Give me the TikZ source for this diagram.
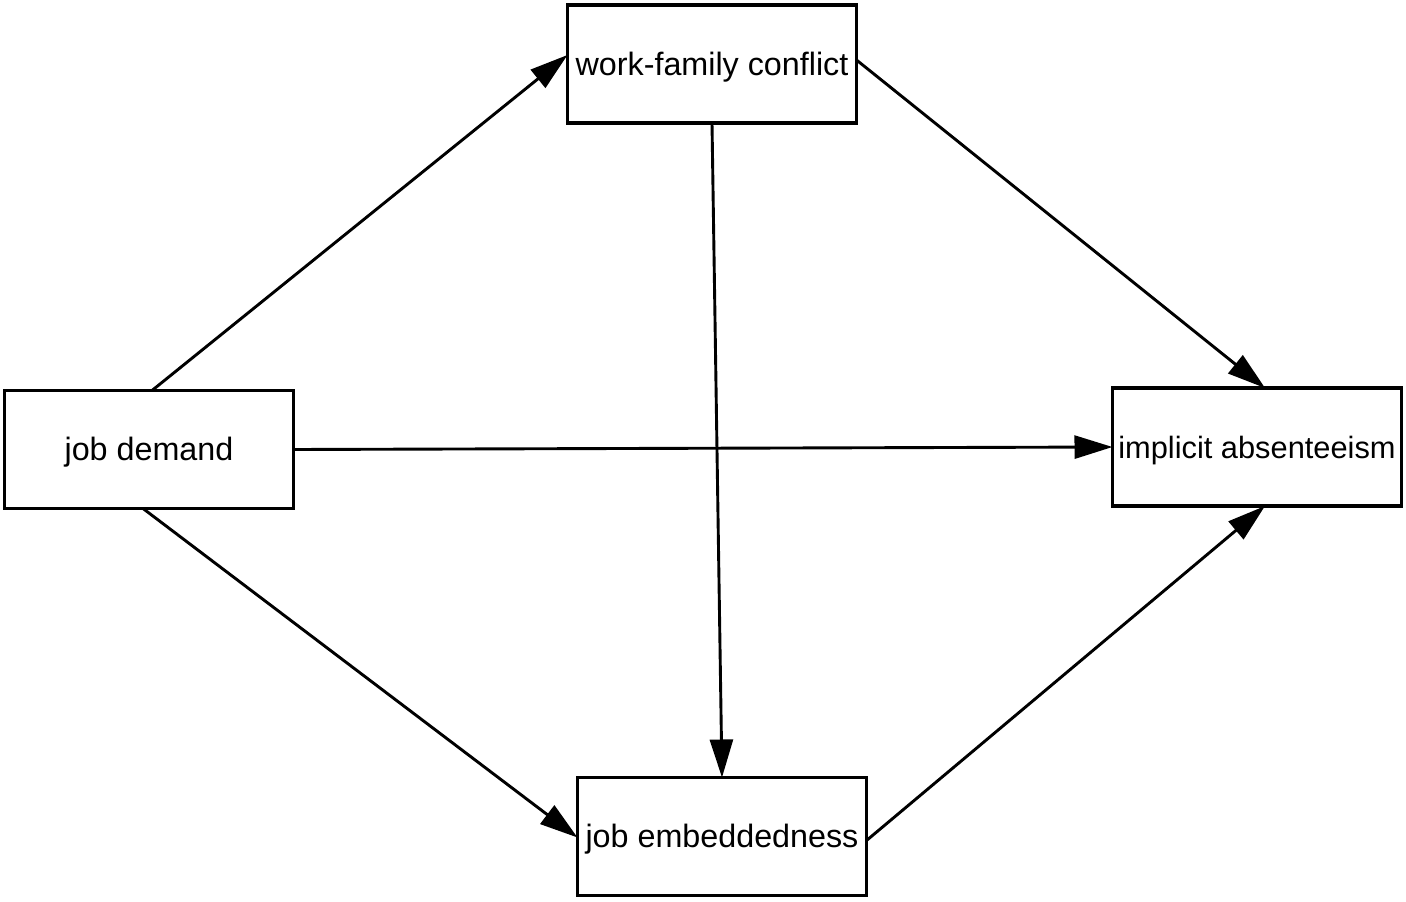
\documentclass[tikz,border=0pt]{standalone}
\usepackage{fontspec}
\setmainfont{Liberation Sans}
\usetikzlibrary{arrows.meta,calc}
\begin{document}
\begin{tikzpicture}[x=1pt,y=-1pt,
  box/.style={draw,line width=3.2pt,rectangle,outer sep=0pt,inner sep=0pt,
    minimum width=289pt,minimum height=118pt,text height=24pt,text depth=2pt,
    font=\fontsize{32.3}{36}\selectfont},
  conn/.style={line width=2.9pt,-{Triangle[length=38pt,width=23pt]}}]
\useasboundingbox[fill=white] (0,0) rectangle (1406,902);
\node[box] (wfc) at (712,64) {work-family conflict};
\node[box] (jd) at (149,449.5) {job demand};
\node[box,font=\fontsize{30.8}{36}\selectfont] (ia) at (1257,447) {implicit absenteeism};
\node[box] (je) at (722,836.5) {job embeddedness};
\draw[conn] ([xshift=3pt]jd.north) -- ([yshift=9pt]wfc.west);
\draw[conn] ([yshift=4pt]wfc.east) -- ([xshift=8pt]ia.north);
\draw[conn] (wfc.south) -- (je.north);
\draw[conn] (jd.east) -- (ia.west);
\draw[conn] ([xshift=-6pt]jd.south) -- ([yshift=-1pt]je.west);
\draw[conn] ([yshift=-4pt]je.east) -- ([xshift=8pt]ia.south);
\end{tikzpicture}
\end{document}
